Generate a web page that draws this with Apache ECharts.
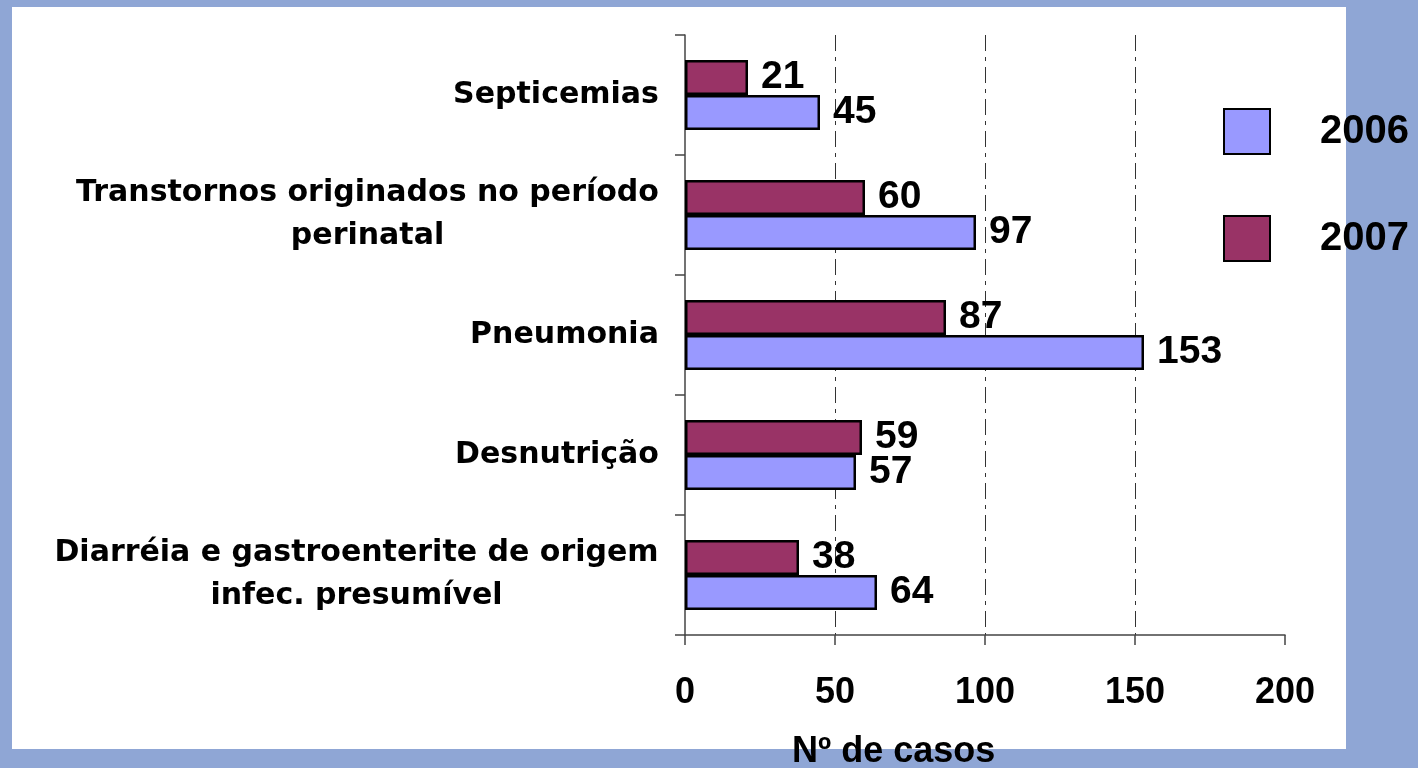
<!DOCTYPE html>
<html>
<head>
<meta charset="utf-8">
<script src="https://cdn.jsdelivr.net/npm/echarts@6/dist/echarts.min.js"></script>
<style>
  html, body { margin: 0; padding: 0; background: #8fa6d5; }
  #chart { width: 1418px; height: 768px; }
</style>
</head>
<body>
<div id="chart"></div>
<script>
// data, bottom category first (category axis runs upward)
const categories = [
  'Diarréia e gastroenterite de origem\ninfec. presumível',
  'Desnutrição',
  'Pneumonia',
  'Transtornos originados no período\nperinatal',
  'Septicemias'
];
const values2006 = [64, 57, 153, 97, 45];
const values2007 = [38, 59, 87, 60, 21];
const seriesNames = ['2006', '2007'];

const font = '"Liberation Sans", Arial, sans-serif';
const catFont = '"DejaVu Sans", "Liberation Sans", sans-serif';
const catFontSize = 30;

// lines of a two-line label are centred on each other, block right aligned
const ctx = document.createElement('canvas').getContext('2d');
ctx.font = 'bold ' + catFontSize + 'px ' + catFont;
const rich = {};
categories.forEach((c, i) => {
  const w = Math.max(...c.split('\n').map(l => ctx.measureText(l).width));
  rich['c' + i] = {
    width: Math.ceil(w) + 2,
    align: 'center',
    fontSize: catFontSize,
    fontWeight: 'bold',
    fontFamily: catFont,
    color: '#000',
    lineHeight: 43
  };
});

const chart = echarts.init(document.getElementById('chart'));

const barLabel = {
  show: true,
  position: 'right',
  distance: 13,
  color: '#000',
  fontSize: 39,
  fontWeight: 'bold',
  fontFamily: font
};

chart.setOption({
  backgroundColor: '#8fa6d5',
  animation: false,
  graphic: [{
    type: 'rect',
    z: -10,
    shape: { x: 12, y: 7, width: 1334, height: 742 },
    style: { fill: '#fff' },
    silent: true
  }],
  title: {
    text: 'Nº de casos',
    left: 792,
    top: 734,
    padding: 0,
    textStyle: { color: '#000', fontSize: 36, fontWeight: 'bold', fontFamily: font }
  },
  legend: {
    data: seriesNames,
    orient: 'vertical',
    left: 1218,
    top: 103,
    itemWidth: 46,
    itemHeight: 45,
    itemGap: 60,
    icon: 'rect',
    textStyle: {
      color: '#000',
      fontSize: 40,
      fontWeight: 'bold',
      fontFamily: font,
      padding: [0, 0, 0, 45]
    }
  },
  grid: { left: 685, right: 133, top: 35, bottom: 133, containLabel: false },
  xAxis: {
    type: 'value',
    min: 0,
    max: 200,
    interval: 50,
    axisLine: { show: true, lineStyle: { color: '#444', width: 1.5 } },
    axisTick: { show: true, length: 10, lineStyle: { color: '#444', width: 1.5 } },
    axisLabel: {
      margin: 40,
      color: '#000',
      fontSize: 36,
      fontWeight: 'bold',
      fontFamily: font
    },
    splitLine: {
      show: true,
      showMinLine: false,
      showMaxLine: false,
      lineStyle: { color: '#333', width: 1, type: [16, 6, 4, 6] }
    }
  },
  yAxis: {
    type: 'category',
    data: categories,
    axisLine: { show: true, lineStyle: { color: '#444', width: 1.5 } },
    axisTick: { show: true, length: 10, lineStyle: { color: '#444', width: 1.5 } },
    axisLabel: {
      margin: 25,
      align: 'right',
      rich: rich,
      formatter: (value, index) => value.split('\n').map(l => '{c' + index + '|' + l + '}').join('\n')
    },
    splitLine: { show: false }
  },
  series: [
    {
      // drawn first -> upper bar in each band
      name: '2007',
      type: 'bar',
      data: values2007,
      barWidth: 35,
      barGap: '0%',
      itemStyle: { color: '#993366', borderColor: '#000', borderWidth: 2.5 },
      label: barLabel
    },
    {
      name: '2006',
      type: 'bar',
      data: values2006,
      barWidth: 35,
      barGap: '0%',
      itemStyle: { color: '#9999ff', borderColor: '#000', borderWidth: 2.5 },
      label: barLabel
    }
  ]
});
</script>
</body>
</html>
